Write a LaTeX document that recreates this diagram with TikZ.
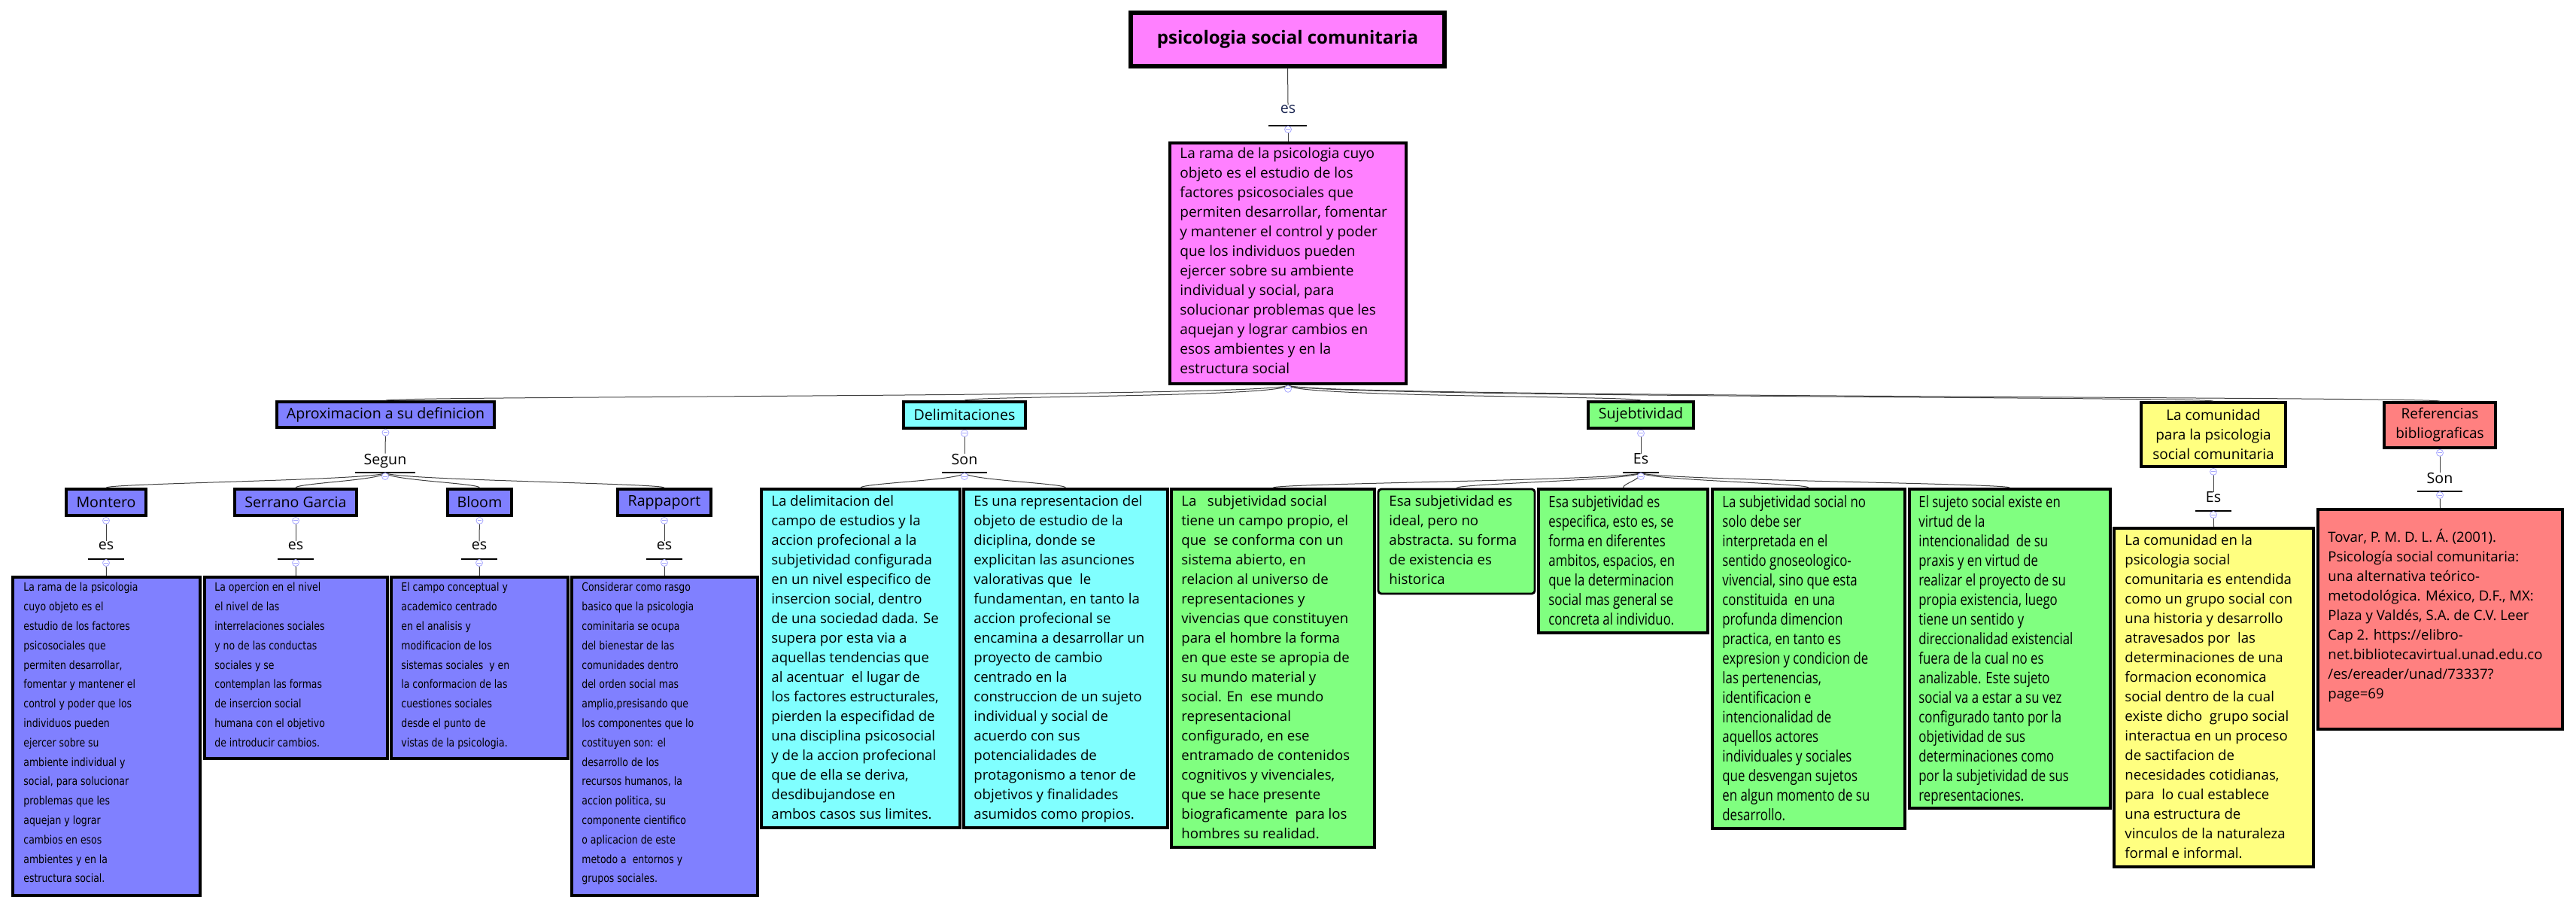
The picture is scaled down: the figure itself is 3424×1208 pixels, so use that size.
\documentclass[tikz,border=0pt]{standalone}
\usepackage{fontspec}
\setmainfont{Open Sans}
\newfontfamily\wideF[FakeStretch=0.82]{DejaVu Sans}
\newfontfamily\condF[FakeStretch=0.8]{Open Sans}
\usetikzlibrary{fit}
\definecolor{cpur}{HTML}{8080FF}
\definecolor{ccya}{HTML}{80FFFF}
\definecolor{cgre}{HTML}{80FF80}
\definecolor{cyel}{HTML}{FFFF80}
\definecolor{cred}{HTML}{FF8080}
\definecolor{cmag}{HTML}{FF80FF}
\definecolor{navy}{HTML}{1F2A55}
\tikzset{
 box/.style={draw=black, line width=1.8pt, inner sep=0pt},
 conn/.style={draw=black!75, line width=0.5pt},
 lbl/.style={inner sep=0pt, font=\fontsize{9.8}{11}\selectfont, text depth=0pt},
 bar/.style={line width=1.3pt},
 txt/.style={anchor=north west, align=left, inner sep=0pt},
 tog/.style={circle, draw=blue!35, fill=white, inner sep=0pt, minimum size=4.5pt, line width=0.4pt,
   path picture={\draw[blue!35,line width=0.4pt] ([xshift=-1.3pt]path picture bounding box.center) -- ([xshift=1.3pt]path picture bounding box.center);}},
 hd/.style={align=center, inner sep=0pt, font=\fontsize{9.8}{11.5}\selectfont},
 of/.style={txt, font=\fontsize{9.3}{13}\selectfont},
 pf/.style={txt, font=\wideF\fontsize{7.6}{12.9}\selectfont},
 cf/.style={txt, font=\condF\fontsize{10.5}{13}\selectfont}
}
\newcommand\bx[6]{\node[box, fill=#6, fit={(#2,#3) (#4,#5)}] (#1) {};}
\newcommand\lab[5]{% name x ytext barhalfwidth text
 \node[lbl] (#1) at (#2,#3) {#5};
 \coordinate (#1b) at (#2,#3+18);
 \draw[bar] (#2-#4,#3+18) -- (#2+#4,#3+18);}
\begin{document}
\begin{tikzpicture}[x=0.5pt,y=-0.5pt]
\useasboundingbox (0,0) rectangle (3424,1208);
% title
\node[box, line width=2.6pt, fill=cmag, fit={(1503,17) (1920,88)}] (title) {};
\node[font=\bfseries\fontsize{12}{14}\selectfont] at (title.center) {psicologia social comunitaria};
\node[lbl, text=navy] (l0) at (1712,145) {es};
\draw[bar] (1686,167) -- (1737,167);
\coordinate (l0b) at (1712,167);
\bx{main}{1555}{190}{1869}{510}{cmag}
\node[txt, font=\fontsize{9.5}{13}\selectfont] at (1568,196) {La rama de la psicologia cuyo\\objeto es el estudio de los\\factores psicosociales que\\permiten desarrollar, fomentar\\y mantener el control y poder\\que los individuos pueden\\ejercer sobre su ambiente\\individual y social, para\\solucionar problemas que les\\aquejan y lograr cambios en\\esos ambientes y en la\\estructura social};
\draw[conn] (title.south) -- (l0.north);
\draw[conn] (l0b) -- (main.north);
% level 2 heads
\bx{apr}{368}{534}{657}{568}{cpur}
\node[hd] at (apr.center) {Aproximacion a su definicion};
\bx{del}{1201}{534}{1363}{569}{ccya}
\node[hd] at (del.center) {Delimitaciones};
\bx{suj}{2111}{534}{2251}{569}{cgre}
\node[hd] at (suj.center) {Sujebtividad};
\bx{com}{2846}{535}{3038}{620}{cyel}
\node[hd, font=\fontsize{9.5}{13}\selectfont] at (com.center) {La comunidad\\para la psicologia\\social comunitaria};
\bx{ref}{3169}{535}{3317}{595}{cred}
\node[hd, font=\fontsize{9.5}{13}\selectfont] at (ref.center) {Referencias\\bibliograficas};
\foreach \t in {apr,del,suj,com,ref}
  \draw[conn] (main.south) .. controls +(0,16) and +(0,-6) .. (\t.north);
% Aproximacion subtree
\lab{sg}{512}{610}{40}{Segun}
\draw[conn] (apr.south) -- (sg.north);
\bx{mon}{88}{650}{194}{685}{cpur}\node[hd] at (mon.center) {Montero};
\bx{ser}{312}{650}{474}{685}{cpur}\node[hd] at (ser.center) {Serrano Garcia};
\bx{blo}{595}{650}{680}{685}{cpur}\node[hd] at (blo.center) {Bloom};
\bx{rap}{821}{650}{945}{685}{cpur}\node[hd] at (rap.center) {Rappaport};
\foreach \t in {mon,ser,blo,rap}
  \draw[conn] (sgb) .. controls +(0,10) and +(0,-6) .. (\t.north);
\lab{e1}{141}{725}{24}{es}\lab{e2}{393}{725}{24}{es}\lab{e3}{637}{725}{24}{es}\lab{e4}{883}{725}{24}{es}
\bx{monT}{17}{767}{266}{1190}{cpur}
\bx{serT}{272}{767}{515}{1008}{cpur}
\bx{bloT}{520}{767}{755}{1008}{cpur}
\bx{rapT}{760}{767}{1007}{1190}{cpur}
\foreach \a/\b/\c in {mon/e1/monT,ser/e2/serT,blo/e3/bloT,rap/e4/rapT}{
  \draw[conn] (\a.south) -- (\b.north);
  \draw[conn] (\b b) -- (\c.north);}
\node[pf] at (31,774) {La rama de la psicologia\\cuyo objeto es el\\estudio de los factores\\psicosociales que\\permiten desarrollar,\\fomentar y mantener el\\control y poder que los\\individuos pueden\\ejercer sobre su\\ambiente individual y\\social, para solucionar\\problemas que les\\aquejan y lograr\\cambios en esos\\ambientes y en la\\estructura social.};
\node[pf] at (285,774) {La opercion en el nivel\\el nivel de las\\interrelaciones sociales\\y no de las conductas\\sociales y se\\contemplan las formas\\de insercion social\\humana con el objetivo\\de introducir cambios.};
\node[pf] at (533,774) {El campo conceptual y\\academico centrado\\en el analisis y\\modificacion de los\\sistemas sociales \ y en\\la conformacion de las\\cuestiones sociales\\desde el punto de\\vistas de la psicologia.};
\node[pf] at (773,774) {Considerar como rasgo\\basico que la psicologia\\cominitaria se ocupa\\del bienestar de las\\comunidades dentro\\del orden social mas\\amplio,presisando que\\los componentes que lo\\costituyen son: el\\desarrollo de los\\recursos humanos, la\\accion politica, su\\componente cientifico\\o aplicacion de este\\metodo a \ entornos y\\grupos sociales.};
% Delimitaciones subtree
\lab{sn}{1282}{610}{30}{Son}
\draw[conn] (del.south) -- (sn.north);
\bx{d1}{1012}{650}{1276}{1100}{ccya}
\bx{d2}{1281}{650}{1552}{1100}{ccya}
\foreach \t in {d1,d2}
  \draw[conn] (snb) .. controls +(0,10) and +(0,-6) .. (\t.north);
\node[of] at (1025,658) {La delimitacion del\\campo de estudios y la\\accion profecional a la\\subjetividad configurada\\en un nivel especifico de\\insercion social, dentro\\de una sociedad dada. Se\\supera por esta via a\\aquellas tendencias que\\al acentuar \ el lugar de\\los factores estructurales,\\pierden la especifidad de\\una disciplina psicosocial\\y de la accion profecional\\que de ella se deriva,\\desdibujandose en\\ambos casos sus limites.};
\node[of] at (1294,658) {Es una representacion del\\objeto de estudio de la\\diciplina, donde se\\explicitan las asunciones\\valorativas que \ le\\fundamentan, en tanto la\\accion profecional se\\encamina a desarrollar un\\proyecto de cambio\\centrado en la\\construccion de un sujeto\\individual y social de\\acuerdo con sus\\potencialidades de\\protagonismo a tenor de\\objetivos y finalidades\\asumidos como propios.};
% Subjetividad subtree
\lab{es}{2181}{610}{24}{Es}
\draw[conn] (suj.south) -- (es.north);
\bx{s1}{1557}{650}{1827}{1126}{cgre}
\node[box, fill=cgre, rounded corners=2pt, line width=1.4pt, fit={(1832,650) (2040,789)}] (s2) {};
\bx{s3}{2045}{650}{2270}{841}{cgre}
\bx{s4}{2276}{650}{2532}{1101}{cgre}
\bx{s5}{2538}{650}{2805}{1074}{cgre}
\foreach \t in {s1,s2,s3,s4,s5}
  \draw[conn] (esb) .. controls +(0,10) and +(0,-6) .. (\t.north);
\node[of] at (1570,658) {La \ \ subjetividad social\\tiene un campo propio, el\\que \ se conforma con un\\sistema abierto, en\\relacion al universo de\\representaciones y\\vivencias que constituyen\\para el hombre la forma\\en que este se apropia de\\su mundo material y\\social. En \ ese mundo\\representacional\\configurado, en ese\\entramado de contenidos\\cognitivos y vivenciales,\\que se hace presente\\biograficamente \ para los\\hombres su realidad.};
\node[of] at (1846,658) {Esa subjetividad es\\ideal, pero no\\abstracta. su forma\\de existencia es\\historica};
\node[cf] at (2058,658) {Esa subjetividad es\\especifica, esto es, se\\forma en diferentes\\ambitos, espacios, en\\que la determinacion\\social mas general se\\concreta al individuo.};
\node[cf] at (2289,658) {La subjetividad social no\\solo debe ser\\interpretada en el\\sentido gnoseologico-\\vivencial, sino que esta\\constituida \ en una\\profunda dimencion\\practica, en tanto es\\expresion y condicion de\\las pertenencias,\\identificacion e\\intencionalidad de\\aquellos actores\\individuales y sociales\\que desvengan sujetos\\en algun momento de su\\desarrollo.};
\node[cf] at (2550,658) {El sujeto social existe en\\virtud de la\\intencionalidad \ de su\\praxis y en virtud de\\realizar el proyecto de su\\propia existencia, luego\\tiene un sentido y\\direccionalidad existencial\\fuera de la cual no es\\analizable. Este sujeto\\social va a estar a su vez\\configurado tanto por la\\objetividad de sus\\determinaciones como\\por la subjetividad de sus\\representaciones.};
% Comunidad subtree
\lab{ec}{2942}{661}{24}{Es}
\draw[conn] (com.south) -- (ec.north);
\bx{c1}{2810}{702}{3075}{1152}{cyel}
\draw[conn] (ecb) -- (c1.north);
\node[of] at (2824,710) {La comunidad en la\\psicologia social\\comunitaria es entendida\\como un grupo social con\\una historia y desarrollo\\atravesados por \ las\\determinaciones de una\\formacion economica\\social dentro de la cual\\existe dicho \ grupo social\\interactua en un proceso\\de sactifacion de\\necesidades cotidianas,\\para \ lo cual establece\\una estructura de\\vinculos de la naturaleza\\formal e informal.};
% Referencias subtree
\lab{sr}{3243}{635}{30}{Son}
\draw[conn] (ref.south) -- (sr.north);
\bx{r1}{3081}{677}{3406}{969}{cred}
\draw[conn] (srb) -- (r1.north);
\node[of, anchor=west] at (3094,818) {Tovar, P. M. D. L. Á. (2001).\\Psicología social comunitaria:\\una alternativa teórico-\\metodológica. México, D.F., MX:\\Plaza y Valdés, S.A. de C.V. Leer\\Cap 2. https://elibro-\\net.bibliotecavirtual.unad.edu.co\\/es/ereader/unad/73337?\\page=69};
% toggles
\foreach \p in {l0b,main.south,apr.south,sgb,mon.south,ser.south,blo.south,rap.south,e1b,e2b,e3b,e4b,del.south,snb,suj.south,esb,com.south,ecb,ref.south,srb}
  \node[tog] at ([yshift=-2.5pt]\p) {};
\end{tikzpicture}
\end{document}
